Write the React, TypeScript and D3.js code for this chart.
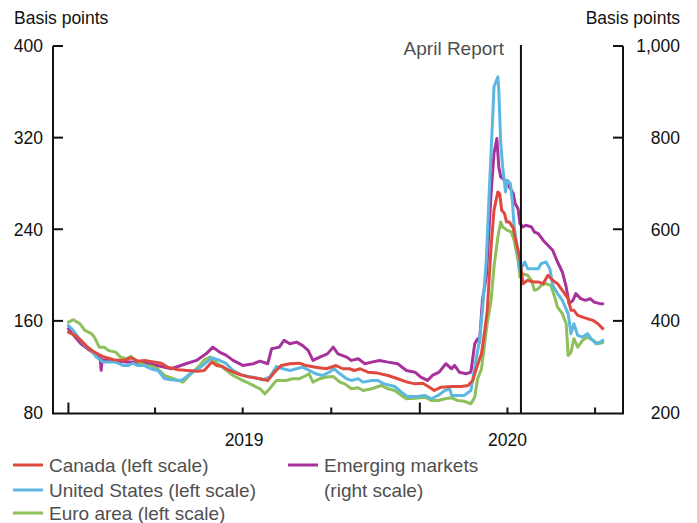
import React from 'react';
import * as d3 from 'd3';

type Pt = [string, number];

const canada: Pt[] = [
  ["2019-01-01",150.2],["2019-01-08",147.3],["2019-01-14",143],["2019-01-21",137],["2019-01-28",132.7],["2019-02-07",128.4],["2019-02-17",126],["2019-02-28",125.5],["2019-03-07",127.8],["2019-03-14",124.8],["2019-03-21",125.5],["2019-04-01",124],["2019-04-07",123.1],["2019-04-14",119.6],["2019-04-25",117.3],["2019-05-05",116.7],["2019-05-15",116.1],["2019-05-22",116.7],["2019-05-30",124],["2019-06-04",121],["2019-06-10",120.2],["2019-06-17",116.7],["2019-06-28",113.2],["2019-07-08",110.9],["2019-07-19",109.5],["2019-07-27",108],["2019-08-03",115.2],["2019-08-10",121],["2019-08-19",122.6],["2019-08-29",123.1],["2019-09-05",121],["2019-09-15",119.6],["2019-09-26",118.2],["2019-10-06",121],["2019-10-13",118.2],["2019-10-20",118.2],["2019-10-25",116.7],["2019-10-31",118.2],["2019-11-08",115.2],["2019-11-18",114.4],["2019-11-29",112.3],["2019-12-09",109.5],["2019-12-19",106.5],["2019-12-27",105],["2020-01-04",105.6],["2020-01-11",102.1],["2020-01-16",99.2],["2020-01-23",102.1],["2020-02-03",102.7],["2020-02-13",102.7],["2020-02-20",103.6],["2020-02-25",108],["2020-02-28",116.7],["2020-03-05",131.3],["2020-03-08",148.8],["2020-03-11",169],["2020-03-15",224.5],["2020-03-18",256.6],["2020-03-22",272.6],["2020-03-24",271],["2020-03-26",256.6],["2020-03-29",253.7],["2020-03-31",246.4],["2020-04-03",246.4],["2020-04-07",241],["2020-04-10",228.9],["2020-04-14",214.4],["2020-04-17",192.5],["2020-04-22",195.4],["2020-04-28",194],["2020-05-03",194],["2020-05-08",192.5],["2020-05-13",199.8],["2020-05-18",195.4],["2020-05-23",192.5],["2020-05-28",186.7],["2020-06-03",179.4],["2020-06-06",169.2],["2020-06-09",169.2],["2020-06-13",164.8],["2020-06-18",163.3],["2020-06-23",161.9],["2020-06-29",160.4],["2020-07-04",157.5],["2020-07-09",153.2]
];

const unitedStates: Pt[] = [
  ["2019-01-01",156],["2019-01-06",151.7],["2019-01-11",145.8],["2019-01-18",138.6],["2019-01-25",134.2],["2019-01-30",128.4],["2019-02-06",124],["2019-02-12",124],["2019-02-19",124],["2019-02-27",121],["2019-03-04",121],["2019-03-09",123],["2019-03-14",121],["2019-03-21",121],["2019-03-28",118],["2019-04-04",116.7],["2019-04-11",109.5],["2019-04-18",108.6],["2019-04-25",108],["2019-04-30",108.6],["2019-05-05",112.3],["2019-05-12",116.7],["2019-05-19",120],["2019-05-30",127.8],["2019-06-07",125.5],["2019-06-14",122.6],["2019-06-21",116.7],["2019-07-01",112.3],["2019-07-12",110.9],["2019-07-22",108.6],["2019-07-29",110.9],["2019-08-05",120.2],["2019-08-12",118.2],["2019-08-19",116.7],["2019-08-26",118.2],["2019-09-01",119.6],["2019-09-08",116.7],["2019-09-15",113.8],["2019-09-22",112.3],["2019-09-29",115.2],["2019-10-04",118.2],["2019-10-10",113.8],["2019-10-17",109.5],["2019-10-22",108],["2019-10-29",109.5],["2019-11-03",106.5],["2019-11-12",108],["2019-11-18",108],["2019-11-25",105],["2019-12-06",102.7],["2019-12-13",97.7],["2019-12-19",94],["2019-12-30",94],["2020-01-06",94.9],["2020-01-13",92],["2020-01-20",94.9],["2020-01-27",99.2],["2020-02-01",100.7],["2020-02-03",94.9],["2020-02-09",94.9],["2020-02-16",94.9],["2020-02-23",99.2],["2020-02-28",124],["2020-03-03",143],["2020-03-06",169],["2020-03-10",212.9],["2020-03-13",271],["2020-03-17",344],["2020-03-18",364.4],["2020-03-22",373],["2020-03-23",361.5],["2020-03-25",315],["2020-03-27",294.5],["2020-03-30",272.6],["2020-04-01",282.8],["2020-04-04",280],["2020-04-06",265.4],["2020-04-08",242],["2020-04-12",218.8],["2020-04-14",204],["2020-04-19",211.4],["2020-04-22",205.6],["2020-04-28",205.6],["2020-05-03",205.6],["2020-05-06",210],["2020-05-11",211.4],["2020-05-15",205.6],["2020-05-18",191],["2020-05-23",183.8],["2020-05-28",178],["2020-06-03",166.3],["2020-06-06",148.8],["2020-06-09",157.5],["2020-06-13",147.3],["2020-06-18",145.8],["2020-06-23",148.8],["2020-06-27",144.4],["2020-07-02",140],["2020-07-06",141.4],["2020-07-09",143]
];

const euroArea: Pt[] = [
  ["2019-01-01",158.9],["2019-01-06",161],["2019-01-13",157.5],["2019-01-18",151.7],["2019-01-25",148.8],["2019-01-28",145.8],["2019-02-02",137],["2019-02-07",137],["2019-02-12",134],["2019-02-19",132.7],["2019-02-24",128.4],["2019-03-02",127],["2019-03-07",129],["2019-03-12",125.5],["2019-03-17",122.6],["2019-03-23",121],["2019-03-28",120.5],["2019-04-04",118],["2019-04-11",112.3],["2019-04-18",110.3],["2019-04-25",108],["2019-04-30",106.5],["2019-05-05",111],["2019-05-12",116.7],["2019-05-19",122.6],["2019-05-22",126],["2019-05-28",128.4],["2019-05-31",126],["2019-06-12",118.2],["2019-06-21",112.3],["2019-07-01",108],["2019-07-12",103.6],["2019-07-19",100.7],["2019-07-24",96.3],["2019-07-29",100.7],["2019-08-05",108],["2019-08-15",108],["2019-08-22",109.5],["2019-08-29",109.5],["2019-09-05",112.3],["2019-09-08",113.8],["2019-09-12",106.5],["2019-09-19",109.5],["2019-09-26",111],["2019-10-03",111.5],["2019-10-10",106.5],["2019-10-15",105],["2019-10-22",100.7],["2019-10-29",101.6],["2019-11-03",99.2],["2019-11-12",100.7],["2019-11-22",103.6],["2019-11-29",100.7],["2019-12-06",99.2],["2019-12-13",94.9],["2019-12-18",92],["2019-12-27",92.5],["2020-01-06",93.4],["2020-01-13",90.5],["2020-01-20",90.5],["2020-01-27",92],["2020-02-03",92.8],["2020-02-09",90.5],["2020-02-16",89.9],["2020-02-23",87.6],["2020-02-27",93.4],["2020-03-01",109.5],["2020-03-05",118],["2020-03-08",138],["2020-03-11",158],["2020-03-15",178],["2020-03-18",207],["2020-03-22",233],["2020-03-25",246.4],["2020-03-27",242],["2020-04-01",239],["2020-04-05",237.6],["2020-04-08",230],["2020-04-12",213],["2020-04-14",198.3],["2020-04-17",201],["2020-04-22",199.8],["2020-04-26",195.4],["2020-04-29",186.7],["2020-05-03",188],["2020-05-06",191],["2020-05-11",192.5],["2020-05-16",191],["2020-05-20",181],["2020-05-23",172],["2020-05-28",166.3],["2020-06-01",157.5],["2020-06-03",129.8],["2020-06-06",132.7],["2020-06-09",144.4],["2020-06-13",137],["2020-06-18",143],["2020-06-23",145.8],["2020-06-29",143],["2020-07-04",140],["2020-07-09",141]
];

const emergingMarkets: Pt[] = [
  ["2019-01-01",383],["2019-01-08",364.6],["2019-01-14",350],["2019-01-21",339],["2019-01-28",328],["2019-02-03",318],["2019-02-04",292],["2019-02-05",315],["2019-02-07",313.7],["2019-02-14",313.7],["2019-03-02",310],["2019-03-07",310],["2019-03-26",306.4],["2019-04-18",295.5],["2019-05-03",306.4],["2019-05-14",313.7],["2019-05-24",328],["2019-05-31",342.7],["2019-06-07",331.8],["2019-06-14",324.6],["2019-06-21",313.7],["2019-07-01",302.7],["2019-07-12",306.4],["2019-07-19",312],["2019-07-27",306.4],["2019-07-31",339],["2019-08-08",342.7],["2019-08-13",357.4],["2019-08-19",350],["2019-08-26",353.7],["2019-09-01",346.5],["2019-09-07",335.5],["2019-09-12",313.7],["2019-09-19",320.9],["2019-09-27",328],["2019-10-03",342.7],["2019-10-08",328],["2019-10-17",320.9],["2019-10-22",313.7],["2019-10-29",317.4],["2019-11-05",306.4],["2019-11-12",310],["2019-11-20",313.7],["2019-11-29",310],["2019-12-09",306.4],["2019-12-18",291.8],["2019-12-27",288],["2020-01-02",277],["2020-01-09",270],["2020-01-14",280.9],["2020-01-21",288],["2020-01-28",306.4],["2020-02-03",295.5],["2020-02-06",302.7],["2020-02-11",288],["2020-02-18",284.6],["2020-02-23",288],["2020-02-27",350],["2020-03-01",361],["2020-03-03",353.7],["2020-03-06",444.8],["2020-03-10",495.7],["2020-03-15",678],["2020-03-18",765.5],["2020-03-21",798],["2020-03-23",736],["2020-03-25",714.3],["2020-03-29",707],["2020-04-03",692.5],["2020-04-07",678],["2020-04-09",656],["2020-04-12",645],["2020-04-14",612.5],["2020-04-17",605],["2020-04-20",608.7],["2020-04-26",605],["2020-04-29",594],["2020-05-03",590.6],["2020-05-08",576],["2020-05-13",565],["2020-05-18",554],["2020-05-23",528.5],["2020-05-28",506.7],["2020-06-01",474],["2020-06-04",437.6],["2020-06-08",444.8],["2020-06-11",459.4],["2020-06-16",448.5],["2020-06-21",444.8],["2020-06-26",448.5],["2020-06-30",441],["2020-07-06",437.6],["2020-07-09",437.6]
];

const leftTicks = [80, 160, 240, 320, 400];
const rightTicks = [200, 400, 600, 800, 1000];
const years = [2019, 2020];
const xDomain = ["2018-12-16", "2020-07-30"];
const dataEnd = "2020-07-01";
const aprilReport = "2020-04-15";
const aprilReportLabel = "April Report";
const axisTitle = "Basis points";

const series = [
  { name: "Emerging markets", data: emergingMarkets, color: "#a7329b", axis: "right" },
  { name: "Euro area", data: euroArea, color: "#8dbf5b", axis: "left" },
  { name: "United States", data: unitedStates, color: "#5db8e1", axis: "left" },
  { name: "Canada", data: canada, color: "#df4a3e", axis: "left" },
];

const legendItems = [
  { lines: ["Canada (left scale)"], color: "#df4a3e", col: 0, row: 0 },
  { lines: ["United States (left scale)"], color: "#5db8e1", col: 0, row: 1 },
  { lines: ["Euro area (left scale)"], color: "#8dbf5b", col: 0, row: 2 },
  { lines: ["Emerging markets", "(right scale)"], color: "#a7329b", col: 1, row: 0 },
];

const parse = d3.timeParse("%Y-%m-%d");

export default function App() {
  const W = 697, H = 523;
  const L = 53, R = 623, T = 46, B = 412.5;
  const x = d3.scaleTime().domain(xDomain.map(d => parse(d)!)).range([L, R]);
  const yL = d3.scaleLinear().domain([80, 400]).range([B, T]);
  const yR = d3.scaleLinear().domain([200, 1000]).range([B, T]);
  const quarterTicks = d3.timeMonth.every(3)!.range(x.domain()[0], x.domain()[1]);
  const font = "'Liberation Sans', Arial, Helvetica, sans-serif";
  const axisColor = "#111";
  const grey = "#505050";
  const xr = x(parse(aprilReport)!);

  const legendX = [13, 288];
  const legendY = [465, 490, 513];

  return (
    <svg width={W} height={H} style={{ position: "absolute", left: 0, top: 0, background: "#fff" }} fontFamily={font}>
      {/* series */}
      {series.map(s => {
        const y = s.axis === "left" ? yL : yR;
        const line = d3.line<Pt>().x(d => x(parse(d[0])!)).y(d => y(d[1]));
        return <path key={s.name} d={line(s.data) || ""} fill="none" stroke={s.color} strokeWidth={3} strokeLinejoin="round" strokeLinecap="round" />;
      })}

      {/* axes */}
      <line x1={L} x2={L} y1={T} y2={B + 1} stroke={axisColor} strokeWidth={2} />
      <line x1={R} x2={R} y1={T} y2={B + 1} stroke={axisColor} strokeWidth={2} />
      <line x1={L - 1} x2={R + 1} y1={B + 1} y2={B + 1} stroke={axisColor} strokeWidth={2} />
      {leftTicks.map(t => (
        <g key={"l" + t}>
          {t !== 80 && <line x1={L} x2={L + 10} y1={yL(t)} y2={yL(t)} stroke={axisColor} strokeWidth={2} />}
          <text x={43} y={yL(t)} dy="0.36em" textAnchor="end" fontSize={17.5} fill={axisColor}>{d3.format(",")(t)}</text>
        </g>
      ))}
      {rightTicks.map(t => (
        <g key={"r" + t}>
          {t !== 200 && <line x1={R - 10} x2={R} y1={yR(t)} y2={yR(t)} stroke={axisColor} strokeWidth={2} />}
          <text x={680} y={yR(t)} dy="0.36em" textAnchor="end" fontSize={17.5} fill={axisColor}>{d3.format(",")(t)}</text>
        </g>
      ))}
      {quarterTicks.map(d => {
        const major = d.getMonth() === 0;
        return <line key={+d} x1={x(d)} x2={x(d)} y1={B + 1} y2={B + 1 - (major ? 11 : 6)} stroke={axisColor} strokeWidth={2} />;
      })}
      {years.map(yr => {
        const start = new Date(yr, 0, 1);
        const endFull = new Date(yr + 1, 0, 1);
        const end = d3.min([endFull, parse(dataEnd)!])!;
        const cx = (x(start) + x(end)) / 2;
        return <text key={yr} x={cx} y={446} textAnchor="middle" fontSize={17.5} fill={axisColor}>{yr}</text>;
      })}

      <text x={14} y={24} fontSize={17.5} fill={axisColor}>{axisTitle}</text>
      <text x={680} y={24} textAnchor="end" fontSize={17.5} fill={axisColor}>{axisTitle}</text>

      {/* April report */}
      <line x1={xr} x2={xr} y1={45} y2={B + 1} stroke={axisColor} strokeWidth={2} />
      <text x={xr - 17} y={55} textAnchor="end" fontSize={19} fill={grey}>{aprilReportLabel}</text>

      {/* legend */}
      {legendItems.map(it => (
        <g key={it.lines[0]}>
          <line x1={legendX[it.col]} x2={legendX[it.col] + 30} y1={legendY[it.row]} y2={legendY[it.row]} stroke={it.color} strokeWidth={3} />
          {it.lines.map((ln, i) => (
            <text key={i} x={legendX[it.col] + 36} y={legendY[it.row + i]} dy="0.36em" fontSize={19} fill={grey}>{ln}</text>
          ))}
        </g>
      ))}
    </svg>
  );
}
